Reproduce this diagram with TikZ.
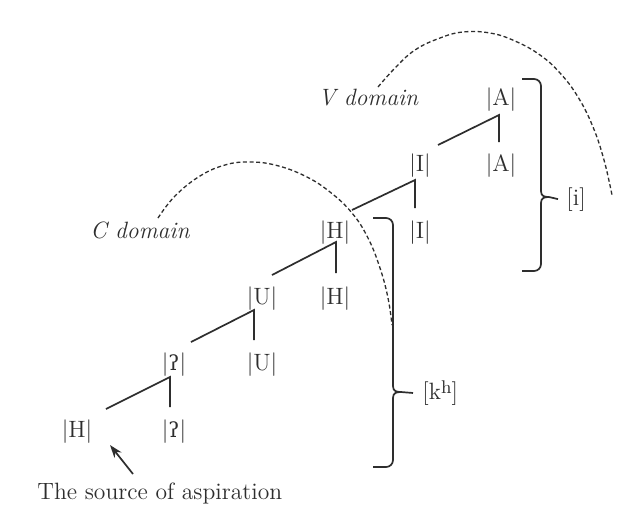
\documentclass[tikz,border=0pt]{standalone}
\usepackage{fontspec}
\newfontfamily\ipafont{DejaVu Serif}[Scale=0.88]
\usetikzlibrary{calc,arrows.meta}
\definecolor{ink}{HTML}{2E2E2E}
\newcommand{\gstop}{{\ipafont ʔ}}
\begin{document}
\begin{tikzpicture}[x=0.5pt,y=-0.5pt,
  el/.style={anchor=base, inner sep=0pt, text=ink, font=\fontsize{11.8}{14}\selectfont},
  dom/.style={anchor=base west, inner sep=0pt, text=ink, font=\fontsize{11.8}{14}\selectfont\itshape},
  plain/.style={anchor=base west, inner sep=0pt, text=ink, font=\fontsize{11.8}{14}\selectfont},
  ln/.style={draw=ink, line width=0.85pt},
  arcd/.style={draw=ink, line width=0.65pt, dash pattern=on 2pt off 1.3pt}]
\fill[white] (0,0) rectangle (619,511);
\useasboundingbox (0,0) rectangle (619,511);

% element labels
\node[el] (A1) at (501,105) {|A|};
\node[el] (A2) at (501,171) {|A|};
\node[el] (I1) at (420,171) {|I|};
\node[el] (I2) at (420,238) {|I|};
\node[el] (H1) at (335,238) {|H|};
\node[el] (H2) at (335,304) {|H|};
\node[el] (U1) at (262,304) {|U|};
\node[el] (U2) at (262,370) {|U|};
\node[el] (Q1) at (174,370) {|\gstop|};
\node[el] (Q2) at (174,437) {|\gstop|};
\node[el] (H0) at (77,437) {|H|};

% domains and bracket labels
\node[dom] (vdom) at (318,105) {V domain};
\node[dom] (cdom) at (90,238) {C domain};
\node[plain] (ilab) at (566,205) {[i]};
\node[plain] (khlab) at (422,399) {[k\raisebox{0.22em}{\fontsize{9.2}{10}\selectfont h}]};
\node[plain] (src) at (37,499) {The source of aspiration};

% tree branches
\draw[ln] ($(I1.base)+(18,-26)$) -- ($(A1.base)+(-2,10)$) -- ($(A2.base)+(-2,-29)$);
\draw[ln] ($(H1.base)+(17,-28)$) -- ($(I1.base)+(-5,9)$) -- ($(I2.base)+(-5,-30)$);
\draw[ln] ($(U1.base)+(10,-29)$) -- ($(H1.base)+(1,4)$) -- ($(H2.base)+(1,-31)$);
\draw[ln] ($(Q1.base)+(17,-28)$) -- ($(U1.base)+(-8,6)$) -- ($(U2.base)+(-8,-30)$);
\draw[ln] ($(H0.base)+(29,-28)$) -- ($(Q1.base)+(-4,7)$) -- ($(Q2.base)+(-4,-30)$);

% bracket for [k^h]
\coordinate (kT) at (373,218);
\coordinate (kM) at (393,392);
\coordinate (kB) at (373,467);
\draw[ln, rounded corners=3.5pt] (kT) -| ($(kM)+(0,-6)$);
\draw[ln] ($(kM)+(0,-6)$) .. controls ($(kM)+(0,-1)$) and ($(kM)+(3,0)$) .. ($(kM)+(8,0)$) -- ($(khlab.west)+(-9,0)$);
\draw[ln] ($(kM)+(8,0)$) .. controls ($(kM)+(3,0)$) and ($(kM)+(0,1)$) .. ($(kM)+(0,6)$);
\draw[ln, rounded corners=3.5pt] ($(kM)+(0,6)$) |- (kB);

% bracket for [i]
\coordinate (iT) at (522,79);
\coordinate (iM) at (541,197);
\coordinate (iB) at (522,271);
\draw[ln, rounded corners=3.5pt] (iT) -| ($(iM)+(0,-6)$);
\draw[ln] ($(iM)+(0,-6)$) .. controls ($(iM)+(0,-1)$) and ($(iM)+(3,0)$) .. ($(iM)+(8,0)$) -- ($(ilab.west)+(-8,0)$);
\draw[ln] ($(iM)+(8,0)$) .. controls ($(iM)+(3,0)$) and ($(iM)+(0,1)$) .. ($(iM)+(0,6)$);
\draw[ln, rounded corners=3.5pt] ($(iM)+(0,6)$) |- (iB);

% domain arcs
\draw[arcd] plot[smooth, tension=0.7] coordinates {(158,218) (175,196) (200,176) (225,165) (248,162) (275,165) (305,176) (330,192) (352,213) (368,238) (380,268) (388,298) (392,325)};
\draw[arcd] plot[smooth, tension=0.7] coordinates {(378,87) (395,68) (415,50) (440,38) (463,32) (490,33) (515,41) (540,55) (560,73) (578,97) (593,127) (604,160) (612,195)};

% arrow to the source of aspiration
\coordinate (arT) at (110,445);
\coordinate (arS) at (133,474);
\draw[ln, -{Stealth[length=6.5pt,width=4.5pt]}] (arS) -- (arT);
\end{tikzpicture}
\end{document}
